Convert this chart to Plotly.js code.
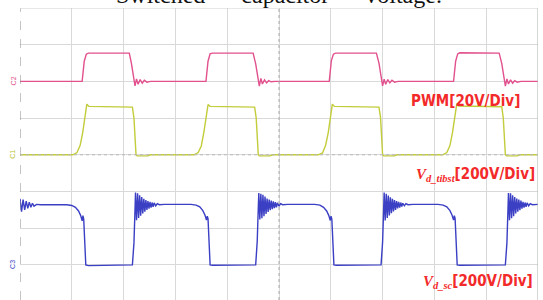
<!DOCTYPE html>
<html>
<head>
<meta charset="utf-8">
<script src="https://cdn.plot.ly/plotly-3.0.1.min.js"></script>
<style>
html,body{margin:0;padding:0;background:#fff;}
#chart{width:543px;height:300px;}
</style>
</head>
<body>
<div id="chart"></div>
<script>
// Time in divisions (10 div across), amplitude in divisions (8 div tall)
const pwmT = [0,
  1.20,1.24,1.28,1.32, 2.11,2.15,2.19,2.22,2.25,2.28,2.32,2.36,2.40,2.45,2.52,
  3.59,3.63,3.67,3.71, 4.50,4.55,4.59,4.62,4.65,4.68,4.72,4.76,4.80,4.85,4.92,
  5.97,6.01,6.05,6.09, 6.88,6.93,6.97,7.00,7.03,7.06,7.10,7.14,7.18,7.23,7.30,
  8.37,8.41,8.45,8.49, 9.25,9.30,9.34,9.37,9.40,9.43,9.47,9.51,9.55,9.60,9.67,
  10];
const pwmV = [6.0,
  6.0,6.55,6.74,6.77, 6.77,6.50,6.15,5.88,6.07,5.92,6.05,5.95,6.03,5.98,6.0,
  6.0,6.55,6.75,6.77, 6.77,6.48,6.12,5.87,6.08,5.93,6.04,5.96,6.02,5.99,6.0,
  6.0,6.56,6.74,6.77, 6.77,6.50,6.14,5.88,6.06,5.92,6.05,5.96,6.03,5.98,6.0,
  6.0,6.55,6.75,6.78, 6.77,6.49,6.13,5.87,6.07,5.93,6.04,5.95,6.02,5.98,6.0,
  6.0];

const tibstT = [0,
  1.02,1.10,1.16,1.21,1.27,1.29,1.33, 2.17,2.20,2.22,2.24,2.26,2.47,2.52,
  3.36,3.44,3.50,3.55,3.61,3.63,3.67, 4.53,4.56,4.58,4.60,4.62,4.83,4.88,
  5.76,5.84,5.90,5.95,6.01,6.03,6.07, 6.93,6.96,6.98,7.00,7.02,7.23,7.28,
  8.16,8.24,8.30,8.35,8.41,8.43,8.47, 9.30,9.33,9.35,9.37,9.39,9.60,9.65,
  10];
const tibstV = [4.0,
  4.0,4.06,4.25,4.60,5.20,5.38,5.32, 5.30,5.00,4.60,4.00,3.97,3.97,4.0,
  4.0,4.06,4.24,4.62,5.22,5.37,5.32, 5.30,5.00,4.58,4.00,3.97,3.97,4.0,
  4.0,4.05,4.26,4.60,5.21,5.38,5.32, 5.30,5.02,4.60,4.00,3.97,3.97,4.0,
  4.0,4.06,4.25,4.61,5.20,5.37,5.33, 5.31,5.00,4.60,4.00,3.97,3.97,4.0,
  4.0];

const scT = [
  0,0.03,0.06,0.09,0.12,0.15,0.18,0.21,0.24,0.27,0.32,0.40,
  0.90,1.00,1.07,1.13,1.17,1.20,1.215,1.23,1.27,1.32,
  2.17,2.20,2.22,2.23,2.25,2.27,2.29,2.31,2.33,2.35,2.37,2.39,2.41,2.43,2.45,2.47,2.49,2.51,2.53,2.55,2.57,2.59,2.62,2.65,2.69,2.79,
  3.30,3.40,3.47,3.53,3.57,3.60,3.615,3.63,3.67,3.72,
  4.55,4.58,4.60,4.61,4.63,4.65,4.67,4.69,4.71,4.73,4.75,4.77,4.79,4.81,4.83,4.85,4.87,4.89,4.91,4.93,4.95,4.97,5.00,5.03,5.07,5.17,
  5.69,5.79,5.86,5.92,5.96,5.99,6.005,6.02,6.06,6.11,
  6.97,7.00,7.02,7.03,7.05,7.07,7.09,7.11,7.13,7.15,7.17,7.19,7.21,7.23,7.25,7.27,7.29,7.31,7.33,7.35,7.37,7.39,7.42,7.45,7.49,7.59,
  8.07,8.17,8.24,8.30,8.34,8.37,8.385,8.40,8.44,8.49,
  9.37,9.40,9.42,9.43,9.45,9.47,9.49,9.51,9.53,9.55,9.57,9.59,9.61,9.63,9.65,9.67,9.69,9.71,9.73,9.75,9.77,9.79,9.82,9.85,9.89,9.99,
  10];
const scV = [
  2.80,2.45,2.78,2.50,2.74,2.54,2.71,2.57,2.68,2.60,2.65,2.64,
  2.64,2.62,2.57,2.47,2.35,2.20,2.34,2.25,1.00,0.98,
  1.00,1.60,2.50,2.97,2.22,2.95,2.28,2.90,2.34,2.85,2.40,2.80,2.45,2.77,2.50,2.74,2.53,2.72,2.56,2.70,2.58,2.69,2.61,2.67,2.64,2.65,
  2.65,2.63,2.58,2.48,2.36,2.22,2.33,2.26,1.00,0.99,
  1.00,1.65,2.55,2.96,2.24,2.94,2.27,2.91,2.33,2.86,2.39,2.81,2.44,2.78,2.49,2.75,2.52,2.73,2.55,2.71,2.57,2.69,2.60,2.67,2.64,2.65,
  2.65,2.63,2.57,2.47,2.35,2.21,2.33,2.25,1.00,0.99,
  1.00,1.62,2.52,2.97,2.21,2.94,2.28,2.89,2.35,2.84,2.41,2.80,2.46,2.77,2.50,2.74,2.54,2.72,2.56,2.70,2.59,2.68,2.61,2.67,2.64,2.65,
  2.65,2.63,2.58,2.48,2.36,2.22,2.34,2.26,1.00,0.99,
  1.00,1.60,2.50,2.96,2.22,2.95,2.27,2.90,2.33,2.85,2.40,2.81,2.45,2.78,2.49,2.75,2.53,2.72,2.56,2.70,2.58,2.69,2.61,2.67,2.64,2.65,
  2.65];

const labels = ["PWM[20V/Div]", "[200V/Div]", "[200V/Div]"];
const titleText = "Switched \u2003 capacitor \u2003 voltage.";

const traces = [
  {x: pwmT, y: pwmV, mode: 'lines', line: {color: '#e2508e', width: 1.4}, hoverinfo: 'skip'},
  {x: tibstT, y: tibstV, mode: 'lines', line: {color: '#c3cc3a', width: 1.4}, hoverinfo: 'skip'},
  {x: scT, y: scV, mode: 'lines', line: {color: '#3b3fc4', width: 1.4}, hoverinfo: 'skip'}
];

const lblFont = {family: 'DejaVu Sans Condensed, Liberation Sans, Arial', size: 15, color: '#f32a2a'};
const serifIt = '<span style="font-family:Liberation Serif;font-style:italic">';

const layout = {
  width: 543, height: 300,
  margin: {l: 20, r: 5, t: 8, b: 0},
  paper_bgcolor: '#ffffff', plot_bgcolor: '#ffffff',
  showlegend: false,
  xaxis: {range: [0, 10], dtick: 1, tick0: 0, showgrid: true, gridcolor: '#d9d9d9', gridwidth: 1,
          zeroline: false, showticklabels: false, ticks: '', showline: false, fixedrange: true},
  yaxis: {range: [0.044, 8], dtick: 1, tick0: 0, showgrid: true, gridcolor: '#d9d9d9', gridwidth: 1,
          zeroline: false, showticklabels: false, ticks: '', showline: false, fixedrange: true},
  shapes: [
    {type: 'line', xref: 'x', yref: 'paper', x0: 0, x1: 0, y0: 0, y1: 1, line: {color: '#8a8a8a', width: 1, dash: 'dash'}},
    {type: 'line', xref: 'x', yref: 'paper', x0: 5, x1: 5, y0: 0, y1: 1, line: {color: '#a8a8a8', width: 1, dash: 'dot'}},
    {type: 'line', xref: 'x', yref: 'paper', x0: 10, x1: 10, y0: 0, y1: 1, line: {color: '#b0b0b0', width: 1}},
    {type: 'line', xref: 'paper', yref: 'y', x0: 0, x1: 1, y0: 8, y1: 8, line: {color: '#cfcfcf', width: 1}},
    {type: 'line', xref: 'paper', yref: 'y', x0: 0, x1: 1, y0: 4, y1: 4, line: {color: '#b8b8b8', width: 1, dash: 'dot'}}
  ],
  annotations: [
    {xref: 'paper', yref: 'paper', x: 0.5, y: 1.046, xanchor: 'center', yanchor: 'middle', showarrow: false,
     text: titleText, font: {family: 'Liberation Serif, Times New Roman', size: 24, color: '#111'}},
    {xref: 'x', yref: 'y', x: 9.69, y: 5.47, xanchor: 'right', yanchor: 'middle', showarrow: false,
     text: '<b>' + labels[0] + '</b>', font: lblFont},
    {xref: 'x', yref: 'y', x: 9.98, y: 3.46, xanchor: 'right', yanchor: 'middle', showarrow: false,
     text: serifIt + '<b>V</b></span><sub>' + serifIt + '<b>d_tibst</b></span></sub><b>' + labels[1] + '</b>', font: lblFont},
    {xref: 'x', yref: 'y', x: 9.94, y: 0.54, xanchor: 'right', yanchor: 'middle', showarrow: false,
     text: serifIt + '<b>V</b></span><sub>' + serifIt + '<b>d_sc</b></span></sub><b>' + labels[2] + '</b>', font: lblFont},
    {xref: 'paper', yref: 'y', x: 0, y: 6, xshift: -7, xanchor: 'center', yanchor: 'middle', showarrow: false,
     text: 'C2', textangle: -90, font: {family: 'Liberation Sans', size: 7, color: '#e2508e'}},
    {xref: 'paper', yref: 'y', x: 0, y: 4, xshift: -7, xanchor: 'center', yanchor: 'middle', showarrow: false,
     text: 'C1', textangle: -90, font: {family: 'Liberation Sans', size: 7, color: '#b8c030'}},
    {xref: 'paper', yref: 'y', x: 0, y: 1, xshift: -7, xanchor: 'center', yanchor: 'middle', showarrow: false,
     text: 'C3', textangle: -90, font: {family: 'Liberation Sans', size: 7, color: '#3b3fc4'}}
  ]
};

Plotly.newPlot('chart', traces, layout, {staticPlot: true, displayModeBar: false});
</script>
</body>
</html>
